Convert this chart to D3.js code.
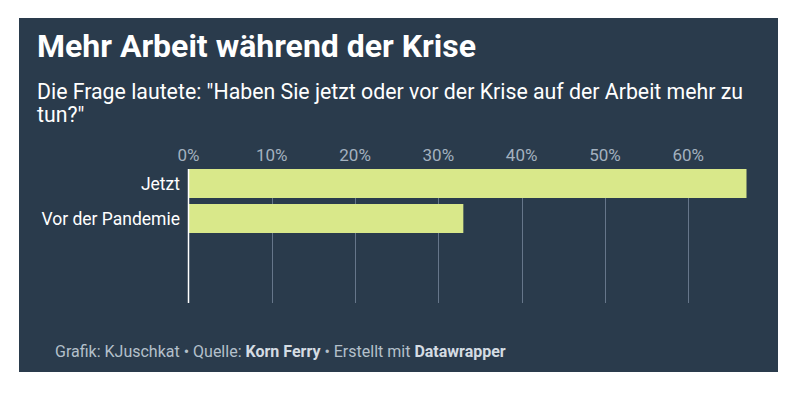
<!DOCTYPE html>
<html>
<head>
<meta charset="utf-8">
<script src="https://cdn.jsdelivr.net/npm/d3@7"></script>
<style>
  body { margin: 0; background: #ffffff; }
  svg { display: block; font-family: Roboto, "Noto Sans", sans-serif; }
</style>
</head>
<body>
<div id="chart"></div>
<script>
// Daten
const categories = ["Jetzt", "Vor der Pandemie"];
const values = [67, 33];
const tickValues = [0, 10, 20, 30, 40, 50, 60];

const title = "Mehr Arbeit während der Krise";
const subtitleLines = [
  'Die Frage lautete: "Haben Sie jetzt oder vor der Krise auf der Arbeit mehr zu',
  'tun?"'
];

const width = 800;
const height = 394;

const bg = "#2a3b4c";
const barColor = "#d9e88a";

const svg = d3.select("#chart")
  .append("svg")
  .attr("width", width)
  .attr("height", height);

// Hintergrund-Panel
svg.append("rect")
  .attr("x", 19)
  .attr("y", 18)
  .attr("width", 759)
  .attr("height", 354)
  .attr("fill", bg);

// Titel
svg.append("text")
  .attr("x", 37)
  .attr("y", 57)
  .attr("fill", "#ffffff")
  .style("font-size", "32px")
  .style("font-weight", "700")
  .text(title);

// Untertitel
svg.selectAll(".subtitle")
  .data(subtitleLines)
  .enter()
  .append("text")
  .attr("class", "subtitle")
  .attr("x", 37)
  .attr("y", (d, i) => 98.5 + i * 23.5)
  .attr("fill", "#ffffff")
  .style("font-size", "21.3px")
  .text(d => d);

// Skalen
const x = d3.scaleLinear()
  .domain([0, d3.max(values)])
  .range([188.5, 746.5]);

const y = d3.scaleBand()
  .domain(categories)
  .range([169, 233])
  .paddingInner(6 / 35)
  .paddingOuter(0);

// Gitterlinien
svg.selectAll(".grid")
  .data(tickValues.filter(d => d > 0))
  .enter()
  .append("line")
  .attr("class", "grid")
  .attr("x1", d => Math.round(x(d)) + 0.5)
  .attr("x2", d => Math.round(x(d)) + 0.5)
  .attr("y1", 169)
  .attr("y2", 303)
  .attr("stroke", "#66768a")
  .attr("stroke-width", 1);

// Tick-Beschriftungen
svg.selectAll(".tick-label")
  .data(tickValues)
  .enter()
  .append("text")
  .attr("class", "tick-label")
  .attr("x", d => x(d))
  .attr("y", 161)
  .attr("text-anchor", "middle")
  .attr("fill", "#a3b1bf")
  .style("font-size", "17px")
  .text(d => d + "%");

// Balken
svg.selectAll(".bar")
  .data(categories)
  .enter()
  .append("rect")
  .attr("class", "bar")
  .attr("x", x(0))
  .attr("y", d => y(d))
  .attr("width", (d, i) => x(values[i]) - x(0))
  .attr("height", y.bandwidth())
  .attr("fill", barColor);

// Nulllinie
svg.append("line")
  .attr("x1", x(0))
  .attr("x2", x(0))
  .attr("y1", 169)
  .attr("y2", 303)
  .attr("stroke", "#ffffff")
  .attr("stroke-width", 1.5);

// Kategorien
svg.selectAll(".cat-label")
  .data(categories)
  .enter()
  .append("text")
  .attr("class", "cat-label")
  .attr("x", 180)
  .attr("y", d => y(d) + y.bandwidth() / 2 + 6)
  .attr("text-anchor", "end")
  .attr("fill", "#ffffff")
  .style("font-size", "17.5px")
  .text(d => d);

// Fußzeile
const footer = svg.append("text")
  .attr("x", 55)
  .attr("y", 357)
  .attr("fill", "#b4c0cb")
  .style("font-size", "16px");

footer.append("tspan").text("Grafik: KJuschkat • Quelle: ");
footer.append("tspan").style("font-weight", "700").attr("fill", "#d4dce3").text("Korn Ferry");
footer.append("tspan").text(" • Erstellt mit ");
footer.append("tspan").style("font-weight", "700").attr("fill", "#d4dce3").text("Datawrapper");
</script>
</body>
</html>
